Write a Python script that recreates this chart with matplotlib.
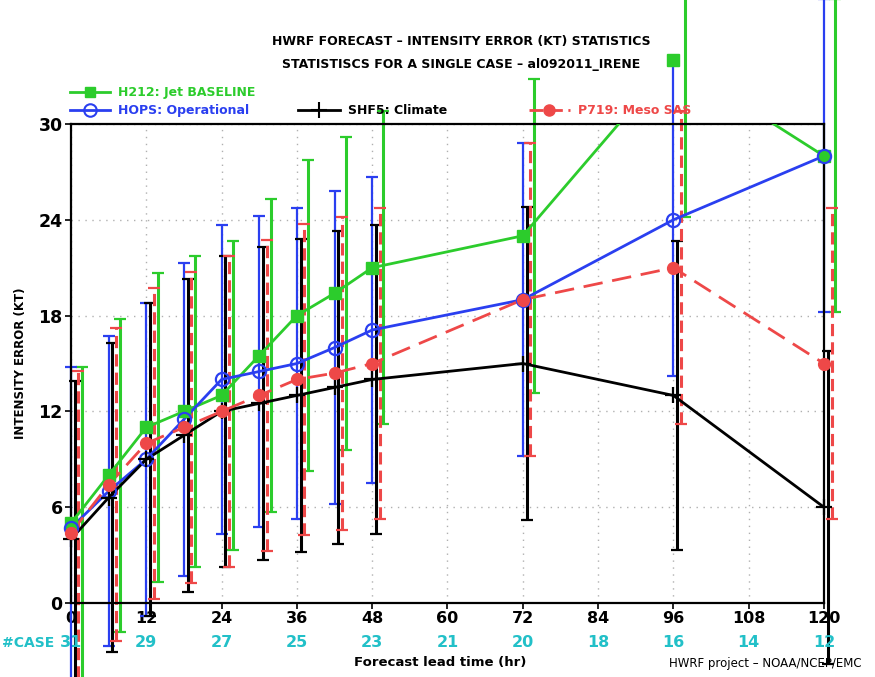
import numpy as np
import matplotlib.pyplot as plt
from matplotlib.lines import Line2D

# forecast lead times (hr)
hours = [0, 6, 12, 18, 24, 30, 36, 42, 48, 72, 96, 120]

# mean intensity error (kt) and its spread, per model
h212_mean = [5.0, 8.0, 11.0, 12.0, 13.0, 15.5, 18.0, 19.4, 21.0, 23.0, 34.0, 28.0]
h212_std = [9.8, 9.8, 9.7, 9.75, 9.7, 9.8, 9.75, 9.8, 9.8, 9.85, 9.8, 9.8]
hops_mean = [4.7, 7.0, 9.0, 11.5, 14.0, 14.5, 15.0, 16.0, 17.1, 19.0, 24.0, 28.0]
hops_std = [10.1, 9.7, 9.8, 9.8, 9.7, 9.75, 9.75, 9.8, 9.6, 9.8, 9.8, 9.8]
shf5_mean = [4.0, 6.6, 9.0, 10.5, 12.0, 12.5, 13.0, 13.5, 14.0, 15.0, 13.0, 6.0]
shf5_std = [9.9, 9.7, 9.8, 9.8, 9.75, 9.8, 9.8, 9.8, 9.7, 9.8, 9.7, 9.8]
p719_mean = [4.4, 7.4, 10.0, 11.0, 12.0, 13.0, 14.0, 14.4, 15.0, 19.0, 21.0, 15.0]
p719_std = [10.1, 9.8, 9.75, 9.75, 9.75, 9.75, 9.75, 9.8, 9.75, 9.8, 9.8, 9.75]

# number of cases verified at each 12-h lead time
case_hours = [0, 12, 24, 36, 48, 60, 72, 84, 96, 108, 120]
case_counts = [31, 29, 27, 25, 23, 21, 20, 18, 16, 14, 12]

GREEN = '#2ccc2c'
BLUE = '#2a3ff0'
RED = '#ee4848'
CYAN = '#22c0c8'

fig = plt.figure(figsize=(8.75, 6.77), dpi=100)
ax = fig.add_axes([0.0811, 0.1093, 0.8606, 0.7075])

models = [
    # mean, std, colour, bar offset (hr), line style, marker kwargs
    (h212_mean, h212_std, GREEN, 1.8, '-', dict(marker='s', ms=8, mfc=GREEN, mec=GREEN)),
    (hops_mean, hops_std, BLUE, 0.0, '-', dict(marker='o', ms=9.5, mfc='none', mec=BLUE, mew=1.6)),
    (shf5_mean, shf5_std, 'black', 0.6, '-', dict(marker='+', ms=11, mec='black', mew=1.6)),
    (p719_mean, p719_std, RED, 1.2, (0, (7, 3.5)), dict(marker='o', ms=8.5, mfc=RED, mec=RED)),
]

# error bars first, not clipped to the frame
for mean, std, col, off, ls, mk in models:
    x = np.array(hours) + off
    eb = ax.errorbar(x, mean, yerr=std, fmt='none', ecolor=col,
                     elinewidth=2.2 if col != BLUE else 1.6,
                     capsize=4, capthick=1.6, zorder=2)
    for cap in eb.lines[1]:
        cap.set_clip_on(False)
    for bar in eb.lines[2]:
        bar.set_clip_on(False)
        if col == RED:
            bar.set_linestyle((0, (4, 2)))

# mean lines (clipped) and markers (not clipped)
for mean, std, col, off, ls, mk in models:
    ax.plot(hours, mean, color=col, lw=2, linestyle=ls, zorder=3)
    ax.plot(hours, mean, linestyle='none', clip_on=False, zorder=4, **mk)

ax.set_xlim(0, 120)
ax.set_ylim(0, 30)
ax.set_xticks(range(0, 121, 12))
ax.set_yticks(range(0, 31, 6))
ax.tick_params(direction='out', length=4, width=1.2)
ax.tick_params(axis='y', labelsize=12.5, pad=2)
ax.tick_params(axis='x', labelsize=11.5, pad=2)
for lab in ax.get_xticklabels() + ax.get_yticklabels():
    lab.set_fontweight('bold')
ax.grid(True, color='#b0b0b0', linestyle=(0, (1, 4)), linewidth=1)
for sp in ax.spines.values():
    sp.set_linewidth(1.6)

ax.set_ylabel('INTENSITY ERROR (KT)', fontsize=8.5, fontweight='bold', labelpad=8)
fig.text(0.503, 0.022, 'Forecast lead time (hr)', ha='center', va='center',
         fontsize=9.5, fontweight='bold')
fig.text(0.985, 0.020, 'HWRF project \u2013 NOAA/NCEP/EMC', ha='right', va='center',
         fontsize=8.5)

# case counts row, centred under each 12-h tick
for h, n in zip(case_hours, case_counts):
    ax.annotate(str(n), xy=(h, 0.0505), xycoords=('data', 'figure fraction'),
                ha='center', va='center', color=CYAN, fontsize=11.5, fontweight='bold',
                annotation_clip=False)
fig.text(0.002, 0.0505, '#CASE', ha='left', va='center', color=CYAN,
         fontsize=10, fontweight='bold')

# titles
fig.text(0.527, 0.938, 'HWRF FORECAST \u2013 INTENSITY ERROR (KT) STATISTICS',
         ha='center', va='center', fontsize=9, fontweight='bold')
fig.text(0.527, 0.905, 'STATISTISCS FOR A SINGLE CASE \u2013 al092011_IRENE',
         ha='center', va='center', fontsize=9, fontweight='bold')

# legend, laid out by hand like the original
legend_items = [
    (0.080, 0.126, 0.864, GREEN, '-', dict(marker='s', ms=7.5, mfc=GREEN, mec=GREEN), 'H212: Jet BASELINE'),
    (0.080, 0.126, 0.837, BLUE, '-', dict(marker='o', ms=9, mfc='none', mec=BLUE, mew=1.5), 'HOPS: Operational'),
    (0.341, 0.389, 0.837, 'black', '-', dict(marker='+', ms=11, mec='black', mew=1.5), 'SHF5: Climate'),
    (0.604, 0.651, 0.837, RED, (0, (5, 2)), dict(marker='o', ms=8, mfc=RED, mec=RED), 'P719: Meso SAS'),
]
for x0, x1, y, col, ls, mk, label in legend_items:
    fig.add_artist(Line2D([x0, x1], [y, y], color=col, lw=2, linestyle=ls,
                          transform=fig.transFigure))
    fig.add_artist(Line2D([(x0 + x1) / 2], [y], linestyle='none',
                          transform=fig.transFigure, **mk))
    fig.text(x1 + 0.009, y, label, color=col, ha='left', va='center',
             fontsize=9, fontweight='bold')

fig.savefig('out.png', dpi=100)
